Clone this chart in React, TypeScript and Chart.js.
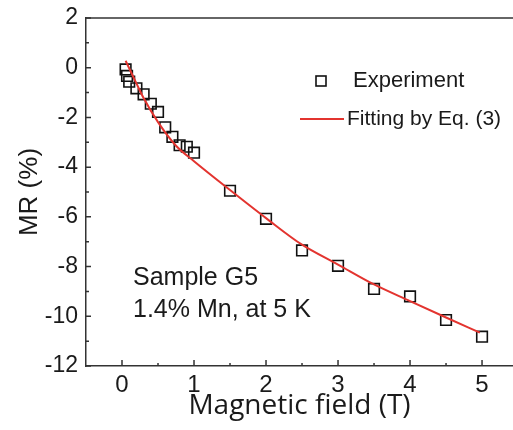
import React, { useEffect, useRef } from "react";
import { Chart, registerables } from "chart.js";

Chart.register(...registerables);

// Measured magnetoresistance (sample G5)
const EXP_FIELD = [0.05, 0.07, 0.1, 0.2, 0.3, 0.4, 0.5, 0.6, 0.7, 0.8, 0.9, 1.0, 1.5, 2, 2.5, 3, 3.5, 4, 4.5, 5];
const EXP_MR = [-0.07, -0.33, -0.56, -0.83, -1.07, -1.45, -1.78, -2.4, -2.78, -3.12, -3.18, -3.42, -4.95, -6.08, -7.35, -7.97, -8.9, -9.2, -10.15, -10.82];

// Fitted curve, Eq. (3)
const FIT_FIELD = [0.05, 0.1, 0.2, 0.3, 0.5, 0.75, 1, 1.5, 2, 2.5, 3, 3.5, 4, 4.5, 4.97];
const FIT_MR = [0.28, -0.02, -0.63, -1.22, -2.19, -3.14, -3.76, -4.92, -6.05, -7.12, -7.92, -8.72, -9.39, -10.05, -10.66];

const X_TICKS = [0, 1, 2, 3, 4, 5];
const X_MINOR = [-0.5, 0.5, 1.5, 2.5, 3.5, 4.5];
const Y_TICKS = [-12, -10, -8, -6, -4, -2, 0, 2];
const Y_MINOR = [-11, -9, -7, -5, -3, -1, 1];

const LEGEND_EXP = "Experiment";
const LEGEND_FIT = "Fitting by Eq. (3)";
const NOTE_LINES = ["Sample G5", "1.4% Mn, at 5 K"];

const AXIS_COLOR = "#333333";
const TEXT_COLOR = "#1a1a1a";
const FIT_COLOR = "#e3342f";
const SANS = "'Liberation Sans', Arial, sans-serif";

const framePlugin = {
  id: "frameAndTicks",
  afterDraw(chart: any) {
    const { ctx, chartArea } = chart;
    const xs = chart.scales.x;
    const ys = chart.scales.y;
    ctx.save();
    ctx.strokeStyle = AXIS_COLOR;
    ctx.lineWidth = 1.5;
    // top frame line
    ctx.beginPath();
    ctx.moveTo(chartArea.left, chartArea.top);
    ctx.lineTo(chartArea.right, chartArea.top);
    ctx.stroke();
    // inward tick marks
    ctx.beginPath();
    X_TICKS.forEach((v) => {
      const px = xs.getPixelForValue(v);
      ctx.moveTo(px, chartArea.bottom);
      ctx.lineTo(px, chartArea.bottom - 6);
    });
    X_MINOR.forEach((v) => {
      const px = xs.getPixelForValue(v);
      if (px > chartArea.left + 1) {
        ctx.moveTo(px, chartArea.bottom);
        ctx.lineTo(px, chartArea.bottom - 3);
      }
    });
    Y_TICKS.forEach((v) => {
      const py = ys.getPixelForValue(v);
      ctx.moveTo(chartArea.left, py);
      ctx.lineTo(chartArea.left + 5, py);
    });
    Y_MINOR.forEach((v) => {
      const py = ys.getPixelForValue(v);
      ctx.moveTo(chartArea.left, py);
      ctx.lineTo(chartArea.left + 3, py);
    });
    ctx.stroke();

    // legend
    ctx.lineWidth = 1.6;
    ctx.strokeStyle = "#111";
    ctx.strokeRect(316, 76, 10, 10);
    ctx.fillStyle = TEXT_COLOR;
    ctx.textBaseline = "middle";
    ctx.textAlign = "left";
    ctx.font = `22px ${SANS}`;
    ctx.fillText(LEGEND_EXP, 353, 81);
    ctx.strokeStyle = FIT_COLOR;
    ctx.lineWidth = 2;
    ctx.beginPath();
    ctx.moveTo(300, 119);
    ctx.lineTo(344, 119);
    ctx.stroke();
    ctx.font = `21px ${SANS}`;
    ctx.fillText(LEGEND_FIT, 347, 119);

    // sample annotation
    ctx.font = `25px ${SANS}`;
    ctx.textBaseline = "alphabetic";
    ctx.fillText(NOTE_LINES[0], 133, 285);
    ctx.fillText(NOTE_LINES[1], 133, 317);
    ctx.restore();
  },
};

export default function App() {
  const canvasRef = useRef<HTMLCanvasElement | null>(null);

  useEffect(() => {
    document.body.style.margin = "0";
    const canvas = canvasRef.current;
    if (!canvas) return;
    const chart = new Chart(canvas, {
      type: "scatter",
      data: {
        datasets: [
          {
            label: LEGEND_FIT,
            type: "line",
            data: FIT_FIELD.map((x, i) => ({ x, y: FIT_MR[i] })),
            borderColor: FIT_COLOR,
            borderWidth: 2,
            pointRadius: 0,
            cubicInterpolationMode: "monotone",
            fill: false,
            order: 0,
          },
          {
            label: LEGEND_EXP,
            data: EXP_FIELD.map((x, i) => ({ x, y: EXP_MR[i] })),
            pointStyle: "rect",
            pointRadius: 7.5,
            borderColor: "#111111",
            backgroundColor: "rgba(0,0,0,0)",
            borderWidth: 1.6,
            clip: false,
            order: 1,
          },
        ],
      },
      options: {
        animation: false,
        responsive: false,
        events: [],
        layout: { autoPadding: false, padding: { left: 0, right: 0, top: 18, bottom: 9 } },
        plugins: {
          legend: { display: false },
          tooltip: { enabled: false },
        },
        scales: {
          x: {
            type: "linear",
            min: -0.5,
            max: 5.43,
            afterBuildTicks: (scale: any) => {
              scale.ticks = X_TICKS.map((value) => ({ value }));
            },
            afterFit: (scale: any) => {
              scale.height = 55;
              scale.paddingLeft = 0;
              scale.paddingRight = 0;
            },
            grid: { display: false, drawTicks: false },
            border: { display: true, color: AXIS_COLOR, width: 1.5 },
            ticks: {
              color: TEXT_COLOR,
              padding: 7,
              font: { family: SANS, size: 24, lineHeight: 1 },
              maxRotation: 0,
            },
            title: {
              display: true,
              text: "Magnetic field (T)",
              color: TEXT_COLOR,
              padding: { top: 0, bottom: 1 },
              font: { family: "'Open Sans', 'Noto Sans', sans-serif", size: 28, lineHeight: 1 },
            },
          },
          y: {
            type: "linear",
            min: -12,
            max: 2,
            afterBuildTicks: (scale: any) => {
              scale.ticks = Y_TICKS.map((value) => ({ value }));
            },
            afterFit: (scale: any) => {
              scale.width = 86;
              scale.paddingTop = 0;
              scale.paddingBottom = 0;
            },
            grid: { display: false, drawTicks: false },
            border: { display: true, color: AXIS_COLOR, width: 1.5 },
            ticks: {
              color: TEXT_COLOR,
              padding: 8,
              font: { family: SANS, size: 23 },
            },
            title: {
              display: true,
              text: "MR (%)",
              color: TEXT_COLOR,
              padding: { top: 14.4, bottom: 0 },
              font: { family: SANS, size: 26 },
            },
          },
        },
      },
      plugins: [framePlugin],
    });
    return () => chart.destroy();
  }, []);

  return (
    <div style={{ width: 513, height: 430, background: "#fff" }}>
      <canvas ref={canvasRef} width={513} height={430} style={{ display: "block" }} />
    </div>
  );
}
